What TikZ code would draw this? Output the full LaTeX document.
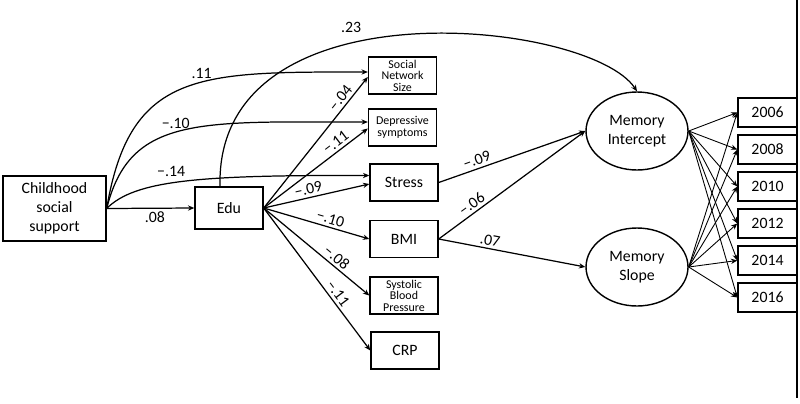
\documentclass[tikz,border=0pt]{standalone}
\usepackage{fontspec}
\setmainfont{Carlito}
\usetikzlibrary{arrows.meta, positioning, shapes.geometric}

\begin{document}
\begin{tikzpicture}[
    x=0.02cm, y=-0.02cm,
    >={Stealth[length=3.6pt, width=3pt]},
    node distance=0.74cm,
    on grid,
    every node/.style={font=\fontsize{9}{10.8}\selectfont},
    box/.style={draw, line width=0.8pt, align=center, inner sep=1pt, minimum width=1.36cm, minimum height=0.74cm},
    smallbox/.style={box, inner sep=0pt, font=\fontsize{6.8}{6.6}\selectfont},
    latent/.style={ellipse, draw, line width=0.8pt, align=center, inner sep=0pt, minimum width=2.04cm, minimum height=1.56cm},
    yearbox/.style={box, minimum width=1.18cm, minimum height=0.58cm},
    arr/.style={->, line width=0.7pt},
    thinarr/.style={->, line width=0.5pt},
    coef/.style={inner sep=1.5pt}
]
   \useasboundingbox (0,0) rectangle (800,403);

   % Observed predictors
   \node[box, minimum width=2.06cm, minimum height=1.3cm] (css) at (54.5,208.5) {Childhood\\social\\support};
   \node[box, minimum height=0.84cm] (edu) at (229,208) {Edu};

   % Mediators
   \node[smallbox] (sns)    at (402.5,75.5)  {Social\\Network\\Size};
   \node[smallbox] (dep)    at (402.5,127.5) {Depressive\\symptoms};
   \node[box]      (stress) at (404,182.5)   {Stress};
   \node[box]      (bmi)    at (404,239)     {BMI};
   \node[smallbox] (sbp)    at (404,295.5)   {Systolic\\Blood\\Pressure};
   \node[box]      (crp)    at (405,350.5)   {CRP};

   % Latent growth factors
   \node[latent] (mi) at (637,131) {Memory\\Intercept};
   \node[latent] (ms) at (637,267) {Memory\\Slope};

   % Memory waves
   \node[yearbox] (y2006) at (767.5,112.5) {2006};
   \node[yearbox] (y2008) [below=of y2006] {2008};
   \node[yearbox] (y2010) [below=of y2008] {2010};
   \node[yearbox] (y2012) [below=of y2010] {2012};
   \node[yearbox] (y2014) [below=of y2012] {2014};
   \node[yearbox] (y2016) [below=of y2014] {2016};

   \coordinate (rtop) at (797,0);
   \coordinate (rbot) at (797,398);
   \draw[line width=0.8pt] (rtop) -- (rbot);

   % Childhood social support paths
   \draw[arr] (css.east) -- node[coef, below, pos=0.55] {.08} (edu.west);
   \draw[arr] (css.east) .. controls (130,70) and (200,72) .. node[coef, above, pos=0.57] {.11} ([yshift=0.07cm]sns.west);
   \draw[arr] (css.east) .. controls (130,115) and (200,122) .. node[coef, above, pos=0.47] {−.10} ([yshift=0.11cm]dep.west);
   \draw[arr] (css.east) .. controls (135,180) and (200,175) .. node[coef, above=2pt, pos=0.44] {−.14} ([yshift=0.14cm]stress.west);

   % Edu paths
   \draw[arr] ([xshift=-0.18cm]edu.north) .. controls (215,-20) and (590,20) .. node[coef, above=4pt, pos=0.4] {.23} (mi.north);
   \draw[arr] (edu.east) -- node[coef, sloped, above, pos=0.8]  {−.04} ([yshift=-0.03cm]sns.west);
   \draw[arr] (edu.east) -- node[coef, sloped, above, pos=0.74] {−.11} ([yshift=-0.02cm]dep.west);
   \draw[arr] (edu.east) -- node[coef, sloped, above, pos=0.44] {−.09} ([yshift=-0.03cm]stress.west);
   \draw[arr] (edu.east) -- node[coef, sloped, above, pos=0.61] {−.10} (bmi.west);
   \draw[arr] (edu.east) -- node[coef, sloped, above, pos=0.64] {−.08} (sbp.west);
   \draw[arr] (edu.east) -- node[coef, sloped, above, pos=0.635] {−.11} (crp.west);

   % Mediators to memory
   \draw[arr] (stress.east) -- node[coef, sloped, above, pos=0.28] {−.09} (mi.west);
   \draw[arr] (bmi.east) -- node[coef, sloped, above, pos=0.26] {−.06} (mi.west);
   \draw[arr] (bmi.east) -- node[coef, sloped, above, pos=0.34] {.07} (ms.west);

   % Loadings
   \foreach \yr in {2006,2008,...,2016} {
     \draw[thinarr] (mi.east) -- (y\yr.west);
     \draw[thinarr] (ms.east) -- (y\yr.west);
   }

\end{tikzpicture}
\end{document}
